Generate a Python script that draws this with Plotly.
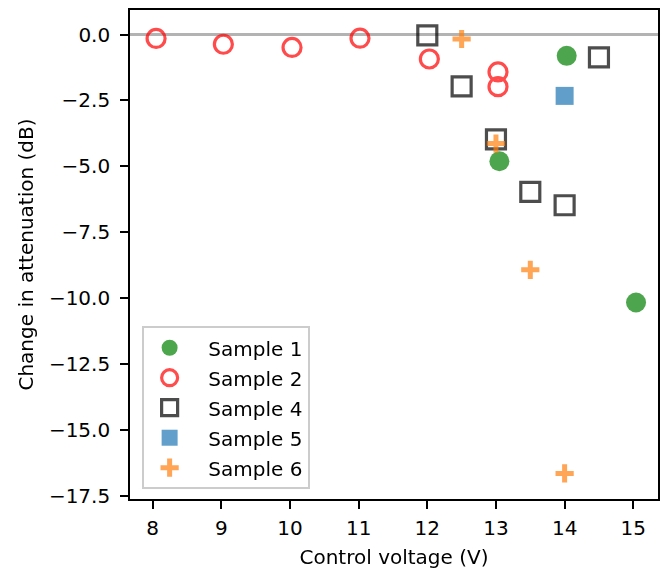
import plotly.graph_objects as go

# Data
s1_x = [13.05, 14.03, 15.04]
s1_y = [-4.81, -0.81, -10.17]

s2_x = [8.05, 9.03, 10.03, 11.02, 12.03, 13.03, 13.03]
s2_y = [-0.15, -0.37, -0.49, -0.14, -0.93, -1.42, -1.98]

s4_x = [12.0, 12.5, 13.0, 13.5, 14.0, 14.5]
s4_y = [-0.03, -1.97, -3.98, -5.97, -6.48, -0.87]

s5_x = [14.0]
s5_y = [-2.33]

s6_x = [12.5, 13.0, 13.5, 14.0]
s6_y = [-0.17, -4.14, -8.93, -16.66]

x_ticks = [8, 9, 10, 11, 12, 13, 14, 15]
y_ticks = [0.0, -2.5, -5.0, -7.5, -10.0, -12.5, -15.0, -17.5]

FONT = "DejaVu Sans"
FS = 20
PAD = "\u00a0\u00a0"

fig = go.Figure()

fig.add_hline(y=0, line=dict(color="rgba(128,128,128,0.6)", width=3), layer="below")

fig.add_trace(go.Scatter(
    x=s1_x, y=s1_y, mode="markers", name=PAD + "Sample 1", legendgroup="g1",
    marker=dict(symbol="circle", size=20, color="green", line=dict(width=0)),
    opacity=0.7))
fig.add_trace(go.Scatter(
    x=s2_x, y=s2_y, mode="markers", name=PAD + "Sample 2", legendgroup="g2",
    marker=dict(symbol="circle-open", size=18, color="red", line=dict(width=3.2)),
    opacity=0.7))
fig.add_trace(go.Scatter(
    x=s4_x, y=s4_y, mode="markers", name=PAD + "Sample 4", legendgroup="g4",
    marker=dict(symbol="square-open", size=19, color="black", line=dict(width=3.2)),
    opacity=0.7))
fig.add_trace(go.Scatter(
    x=s5_x, y=s5_y, mode="markers", name=PAD + "Sample 5", legendgroup="g5",
    marker=dict(symbol="square", size=18, color="#1f77b4", line=dict(width=0)),
    opacity=0.7))
fig.add_trace(go.Scatter(
    x=s6_x, y=s6_y, mode="markers", name=PAD + "Sample 6", legendgroup="g6",
    marker=dict(symbol="cross-thin", size=13, color="#ff7f0e",
                line=dict(width=5, color="#ff7f0e")),
    opacity=0.7))

axis_common = dict(
    showgrid=False, zeroline=False, showline=True, linecolor="black", linewidth=1.6,
    mirror=True, ticks="outside", ticklen=8, tickwidth=1.6, tickcolor="black",
    tickfont=dict(family=FONT, size=FS, color="black"),
)

fig.update_xaxes(
    range=[7.67, 15.36], tickmode="array", tickvals=x_ticks,
    ticktext=[str(v) for v in x_ticks], ticklabelstandoff=2,
    title=dict(text="Control voltage (V)", font=dict(family=FONT, size=FS, color="black"), standoff=11),
    **axis_common)
fig.update_yaxes(
    range=[-17.63, 0.93], tickmode="array", tickvals=y_ticks,
    ticktext=[f"{v:.1f}".replace("-", "\u2212") for v in y_ticks], ticklabelstandoff=6,
    title=dict(text="Change in attenuation (dB)", font=dict(family=FONT, size=FS, color="black"), standoff=10),
    **axis_common)

fig.update_layout(
    width=668, height=573,
    margin=dict(l=130, r=9, t=8, b=74),
    paper_bgcolor="white", plot_bgcolor="white",
    font=dict(family=FONT, size=FS, color="black"),
    legend=dict(
        x=0.022, y=0.02, xanchor="left", yanchor="bottom",
        bgcolor="rgba(255,255,255,0.8)", bordercolor="#cccccc", borderwidth=2,
        font=dict(family=FONT, size=FS, color="black"),
        tracegroupgap=1, itemsizing="trace", itemwidth=42,
    ),
)

fig.write_html("out.html")
